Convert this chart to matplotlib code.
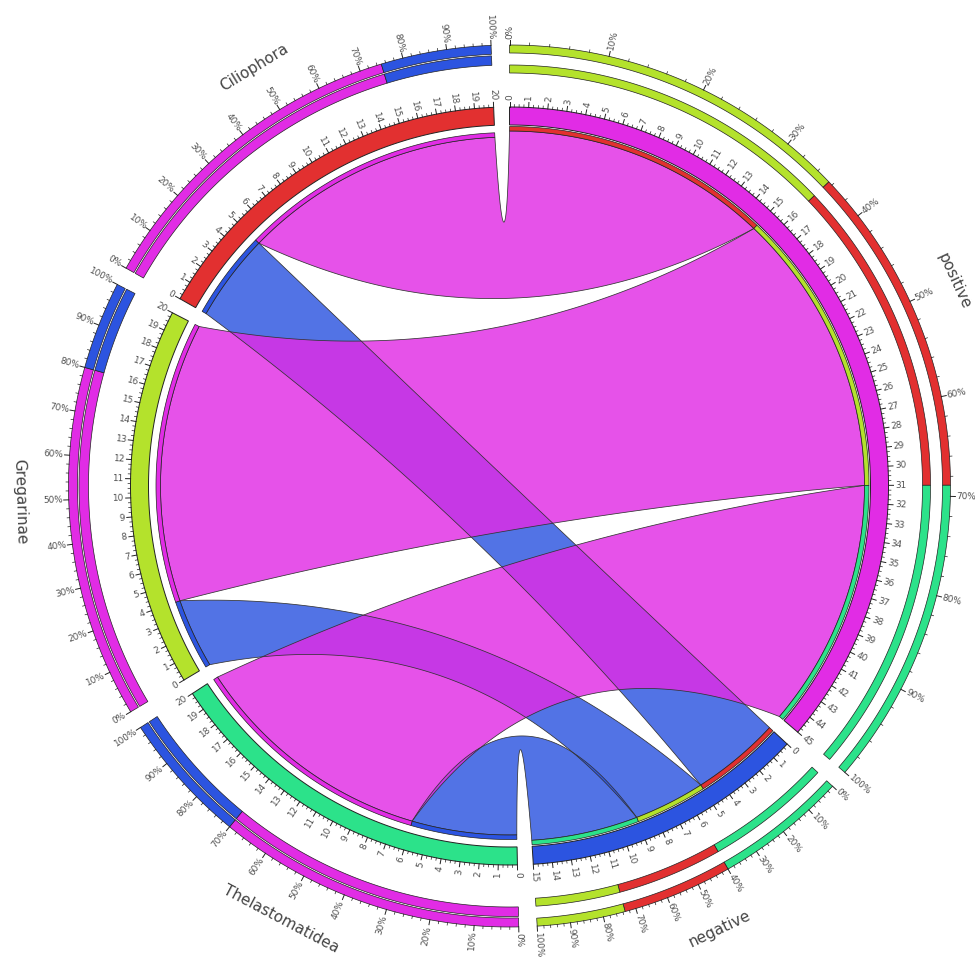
#
# chord diagram of taxa vs. test outcome (circos tableviewer style)
#

import numpy as np
import matplotlib
matplotlib.use('Agg')
import matplotlib.pyplot as plt
from matplotlib.patches import Polygon

ROWS = ['Ciliophora', 'Gregarinae', 'Thelastomatidea']
COLUMNS = ['positive', 'negative']
POSITIVE = [15, 16, 14]  # Ciliophora, Gregarinae, Thelastomatidea
NEGATIVE = [5, 4, 6]

# segments clockwise from twelve o'clock
ORDER = ['positive', 'negative', 'Thelastomatidea', 'Gregarinae', 'Ciliophora']

COLORS = {
    'positive': '#e12ce5',
    'negative': '#2c54e0',
    'Ciliophora': '#e23030',
    'Gregarinae': '#b4e22c',
    'Thelastomatidea': '#2ce28a',
}

W, H = 975, 959
CX, CY = 509.5, 486.0
GAP = 2.4          # degrees between segments
R_IN, R_OUT = 361, 379
TXT = '#505050'

table = {'positive': dict(zip(ROWS, POSITIVE)), 'negative': dict(zip(ROWS, NEGATIVE))}
sizes = {c: sum(table[c].values()) for c in COLUMNS}
for i, r in enumerate(ROWS):
    sizes[r] = POSITIVE[i] + NEGATIVE[i]

total = sum(sizes.values())
scale = (360.0 - GAP * len(ORDER)) / total
seg_start = {}
a = 0.0
for s in ORDER:
    seg_start[s] = a
    a += sizes[s] * scale + GAP


def ang(seg, v):
    return seg_start[seg] + v * scale


def xy(theta, r):
    t = np.radians(theta)
    return CX + r * np.sin(t), CY - r * np.cos(t)


def arc(t1, t2, r, n=None):
    if n is None:
        n = max(int(abs(t2 - t1) * 3), 4)
    ts = np.linspace(t1, t2, n)
    x, y = xy(ts, r)
    return np.column_stack([x, y])


def band(ax, t1, t2, r1, r2, color, lw=0.6, ec='#222222'):
    pts = np.vstack([arc(t1, t2, r2), arc(t2, t1, r1)])
    ax.add_patch(Polygon(pts, closed=True, fc=color, ec=ec, lw=lw, zorder=3))


def bezier(p0, p2, k=0.5, n=120):
    # control point halfway between the centre and the chord midpoint
    ctr = np.array([CX, CY])
    c = ctr + k * ((p0 + p2) / 2 - ctr)
    t = np.linspace(0, 1, n)[:, None]
    return (1 - t) ** 2 * p0 + 2 * t * (1 - t) * c + t ** 2 * p2


def ribbon(ax, a1, a2, ra, b1, b2, rb, color):
    pa1 = np.array(xy(a1, ra)); pa2 = np.array(xy(a2, ra))
    pb1 = np.array(xy(b1, rb)); pb2 = np.array(xy(b2, rb))
    pts = np.vstack([arc(a1, a2, ra), bezier(pa2, pb1), arc(b1, b2, rb), bezier(pb2, pa1)])
    ax.add_patch(Polygon(pts, closed=True, fc=color, alpha=0.82, ec='none', zorder=2))
    ax.add_patch(Polygon(pts, closed=True, fc='none', ec='#333333', lw=0.55, zorder=2.1))


def radial_text(ax, theta, r, s, size=6.4):
    th = theta % 360
    x, y = xy(theta, r)
    if th <= 180:
        ax.text(x, y, s, rotation=90 - th, ha='left', va='center',
                rotation_mode='anchor', fontsize=size, color=TXT)
    else:
        ax.text(x, y, s, rotation=270 - th, ha='right', va='center',
                rotation_mode='anchor', fontsize=size, color=TXT)


def tick(ax, theta, r1, r2, lw=0.6):
    x1, y1 = xy(theta, r1)
    x2, y2 = xy(theta, r2)
    ax.plot([x1, x2], [y1, y2], color='#222222', lw=lw, zorder=4)


fig = plt.figure(figsize=(W / 100, H / 100), dpi=100)
ax = fig.add_axes([0, 0, 1, 1])
ax.set_xlim(0, W)
ax.set_ylim(H, 0)
ax.axis('off')

# ribbon positions on each segment
col_pos = {}
for c in COLUMNS:
    v = 0
    for r in ROWS:
        col_pos[(c, r)] = (v, v + table[c][r])
        v += table[c][r]
row_pos = {}
for r in ROWS:
    v = 0
    for c in ['negative', 'positive']:
        row_pos[(r, c)] = (v, v + table[c][r])
        v += table[c][r]

R_ROW, R_COL = 349, 355

# negative ribbons underneath, positive ribbons on top
for c in ['negative', 'positive']:
    for r in ROWS:
        a1, a2 = [ang(r, v) for v in row_pos[(r, c)]]
        b1, b2 = [ang(c, v) for v in col_pos[(c, r)]]
        ribbon(ax, a1, a2, R_ROW, b1, b2, R_COL, COLORS[c])
        band(ax, a1, a2, R_ROW, R_ROW + 4.5, COLORS[c], lw=0.5)
        band(ax, b1, b2, R_COL, R_COL + 4.5, COLORS[r], lw=0.5)

# ideogram segments with unit ticks
for s in ORDER:
    t0, t1 = ang(s, 0), ang(s, sizes[s])
    band(ax, t0, t1, R_IN, R_OUT, COLORS[s], lw=0.7)
    for q in np.arange(0, sizes[s] + 1e-9, 0.25):
        th = ang(s, q)
        if abs(q - round(q)) < 1e-9:
            tick(ax, th, R_OUT, R_OUT + 5, lw=0.7)
            radial_text(ax, th, R_OUT + 7, str(int(round(q))))
        else:
            tick(ax, th, R_OUT, R_OUT + 2.5, lw=0.5)

# outer percentage rings
for s in ORDER:
    if s in COLUMNS:
        parts = [(table[s][r], COLORS[r]) for r in ROWS]
        rings = [(413, 421), (433, 441)]
    else:
        parts = [(table[c][s], COLORS[c]) for c in COLUMNS]
        rings = [(421, 430.5), (432, 441)]
    parts.sort(key=lambda p: -p[0])
    for r1, r2 in rings:
        v = 0
        for val, col in parts:
            band(ax, ang(s, v), ang(s, v + val), r1, r2, col, lw=0.5)
            v += val
    for p in range(0, 101, 2):
        th = ang(s, sizes[s] * p / 100)
        if p % 10 == 0:
            tick(ax, th, 441, 446, lw=0.7)
            radial_text(ax, th, 447, f'{p}%')
        else:
            tick(ax, th, 441, 443.5, lw=0.5)

    # segment name
    mid = (ang(s, 0) + ang(s, sizes[s])) / 2
    x, y = xy(mid, 490)
    rot = 180 - mid if 90 < mid < 270 else -mid
    ax.text(x, y, s, rotation=rot, ha='center', va='center', rotation_mode='anchor',
            fontsize=11, color='#444444')

fig.savefig('out.png', dpi=100)
